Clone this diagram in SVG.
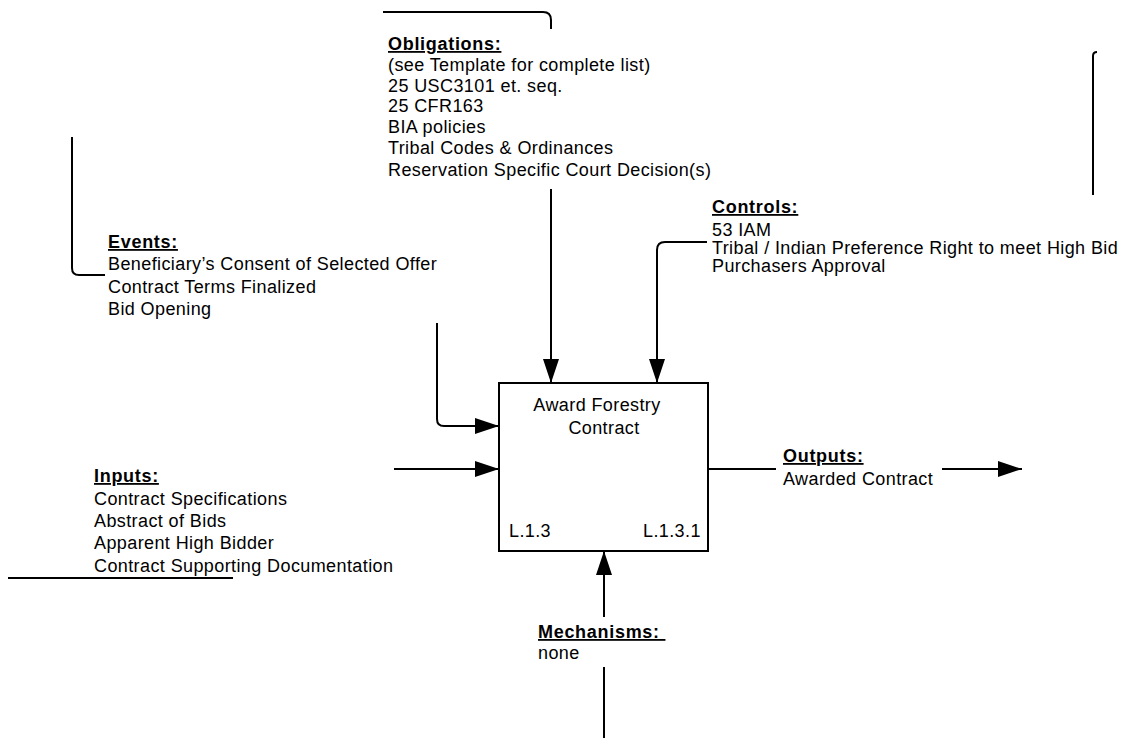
<svg xmlns="http://www.w3.org/2000/svg" width="1134" height="738" viewBox="0 0 1134 738">
  <defs>
    <marker id="arrow" markerWidth="24" markerHeight="16" refX="24" refY="8" orient="auto" markerUnits="userSpaceOnUse">
      <path d="M0,0 L24,8 L0,16 Z" fill="#000"/>
    </marker>
    <style>
      text { font-family: "Liberation Sans", Arial, sans-serif; font-size: 18px; letter-spacing: 0.4px; fill: #000; }
      .hd { font-weight: bold; text-decoration: underline; letter-spacing: 0.7px; }
      .ln { fill: none; stroke: #000; stroke-width: 2; }
      .arr { fill: none; stroke: #000; stroke-width: 2; marker-end: url(#arrow); }
    </style>
  </defs>
  <rect width="1134" height="738" fill="#fff"/>

  <!-- connectors -->
  <g id="connectors">
    <path class="ln" d="M383,12 H543 Q551,12 551,20 V29"/>
    <path class="arr" d="M551,189 V383"/>
    <path class="ln" d="M707,242 H665 Q657,242 657,250"/>
    <path class="arr" d="M657,250 V383"/>
    <path class="ln" d="M1093,195 V56 Q1093,52 1097,52"/>
    <path class="ln" d="M72,137 V268 Q72,275 79,275 H105"/>
    <path class="arr" d="M437,323 V419 Q437,426 444,426 H499"/>
    <path class="arr" d="M394,469 H499"/>
    <path class="ln" d="M8,578 H233"/>
    <path class="ln" d="M708,469 H776"/>
    <path class="arr" d="M942,469 H1022"/>
    <path class="arr" d="M604,617 V551"/>
    <path class="ln" d="M604,667 V738"/>
  </g>

  <!-- activity box -->
  <g id="activity">
    <rect x="499" y="383" width="209" height="168" fill="#fff" stroke="#000" stroke-width="2"/>
    <text x="597" y="411" text-anchor="middle">Award Forestry</text>
    <text x="604" y="434" text-anchor="middle">Contract</text>
    <text x="509" y="537">L.1.3</text>
    <text x="643" y="537">L.1.3.1</text>
  </g>

  <!-- obligations -->
  <g id="obligations">
    <text class="hd" x="388" y="50">Obligations:</text>
    <text x="388" y="71">(see Template for complete list)</text>
    <text x="388" y="92">25 USC3101 et. seq.</text>
    <text x="388" y="112">25 CFR163</text>
    <text x="388" y="133">BIA policies</text>
    <text x="388" y="154">Tribal Codes &amp; Ordinances</text>
    <text x="388" y="176">Reservation Specific Court Decision(s)</text>
  </g>

  <!-- controls -->
  <g id="controls">
    <text class="hd" x="712" y="213">Controls:</text>
    <text x="712" y="236">53 IAM</text>
    <text x="712" y="254">Tribal / Indian Preference Right to meet High Bid</text>
    <text x="712" y="272">Purchasers Approval</text>
  </g>

  <!-- events -->
  <g id="events">
    <text class="hd" x="108" y="248">Events:</text>
    <text x="108" y="270">Beneficiary’s Consent of Selected Offer</text>
    <text x="108" y="293">Contract Terms Finalized</text>
    <text x="108" y="315">Bid Opening</text>
  </g>

  <!-- inputs -->
  <g id="inputs">
    <text class="hd" x="94" y="482">Inputs:</text>
    <text x="94" y="505">Contract Specifications</text>
    <text x="94" y="527">Abstract of Bids</text>
    <text x="94" y="549">Apparent High Bidder</text>
    <text x="94" y="572">Contract Supporting Documentation</text>
  </g>

  <!-- outputs -->
  <g id="outputs">
    <text class="hd" x="783" y="462">Outputs:</text>
    <text x="783" y="485">Awarded Contract</text>
  </g>

  <!-- mechanisms -->
  <g id="mechanisms">
    <text class="hd" x="538" y="638" xml:space="preserve">Mechanisms: </text>
    <text x="538" y="659">none</text>
  </g>
</svg>
